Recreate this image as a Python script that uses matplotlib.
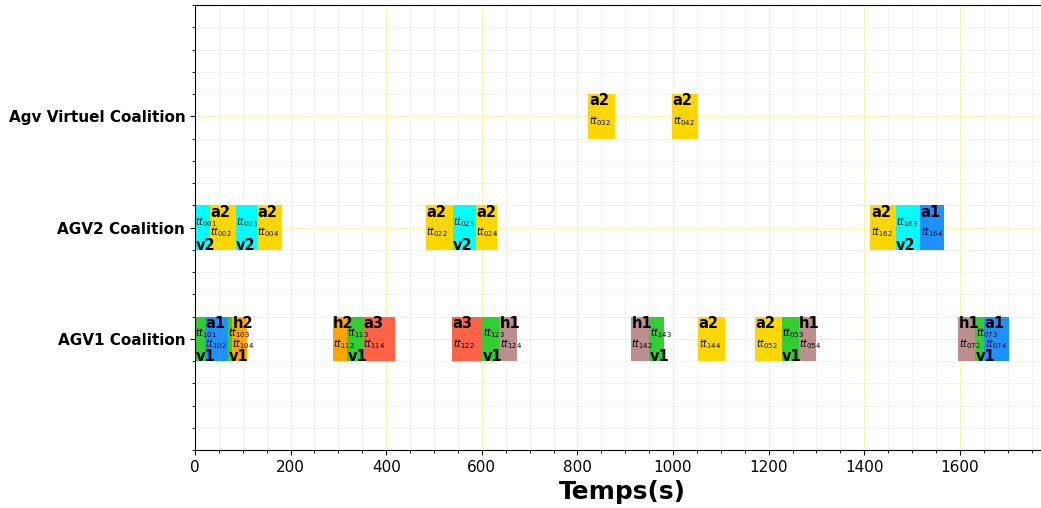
import matplotlib
matplotlib.use('Agg')
import matplotlib.pyplot as plt
from matplotlib.ticker import MultipleLocator

# rows of the gantt chart
rows = ['AGV1 Coalition', 'AGV2 Coalition', 'Agv Virtuel Coalition']
row_y = [10, 20, 30]

colors = {
    'v1': '#32CD32', 'v2': '#00FFFF',
    'a1': '#1E90FF', 'a2': '#FFD700', 'a3': '#FF6347',
    'h1': '#BC8F8F', 'h2': '#FFA500',
}

# tasks per row: (task id, agent, start, end)
agv1_tasks = [
    ('101', 'v1', 0, 21), ('102', 'a1', 21, 71),
    ('103', 'v1', 69, 77), ('104', 'h2', 77, 109),
    ('112', 'h2', 288, 318), ('113', 'v1', 318, 351), ('114', 'a3', 351, 418),
    ('122', 'a3', 538, 601), ('123', 'v1', 601, 637), ('124', 'h1', 637, 673),
    ('142', 'h1', 912, 950), ('143', 'v1', 950, 982), ('144', 'a2', 1053, 1108),
    ('052', 'a2', 1172, 1227), ('053', 'v1', 1227, 1263), ('054', 'h1', 1263, 1299),
    ('072', 'h1', 1597, 1632), ('073', 'v1', 1632, 1651), ('074', 'a1', 1651, 1702),
]
agv2_tasks = [
    ('001', 'v2', 0, 31), ('002', 'a2', 31, 85),
    ('003', 'v2', 85, 129), ('004', 'a2', 129, 183),
    ('022', 'a2', 483, 539), ('023', 'v2', 539, 587), ('024', 'a2', 587, 632),
    ('162', 'a2', 1413, 1466), ('163', 'v2', 1466, 1517), ('164', 'a1', 1517, 1566),
]
virt_tasks = [
    ('032', 'a2', 823, 878), ('042', 'a2', 998, 1052),
]

fig = plt.figure(figsize=(10.41, 5.08), dpi=100)
ax = fig.add_axes([0.1873, 0.114, 0.822, 0.876])

for y, tasks in zip(row_y, [agv1_tasks, agv2_tasks, virt_tasks]):
    for tid, agent, start, end in tasks:
        ax.broken_barh([(start, end - start)], (y - 2, 4), facecolors=colors[agent])
        if agent.startswith('v'):
            ax.text(start + 1, y + 0.5, r'$tt_{%s}$' % tid, fontsize=7, va='center', ha='left')
            ax.text(start + 1, y - 1.6, agent, fontsize=10.5, fontweight='bold', va='center', ha='left')
        else:
            ax.text(start + 1, y - 0.45, r'$tt_{%s}$' % tid, fontsize=7, va='center', ha='left')
            ax.text(start + 1, y + 1.4, agent, fontsize=10.5, fontweight='bold', va='center', ha='left')

ax.set_xlim(0, 1790)
ax.set_ylim(0, 40)
ax.set_yticks(row_y)
ax.set_yticklabels(rows, fontsize=11, fontweight='bold')
ax.yaxis.set_minor_locator(MultipleLocator(2))
ax.xaxis.set_major_locator(MultipleLocator(200))
ax.xaxis.set_minor_locator(MultipleLocator(50))
ax.tick_params(axis='x', labelsize=11)
ax.set_xlabel('Temps(s)', fontsize=18, fontweight='bold')

ax.grid(which='major', color='#FFEFA0', linewidth=0.6)
ax.grid(which='minor', color='#EEEEEE', linewidth=0.5)
ax.set_axisbelow(True)

plt.savefig('out.png', dpi=100)
plt.close(fig)
